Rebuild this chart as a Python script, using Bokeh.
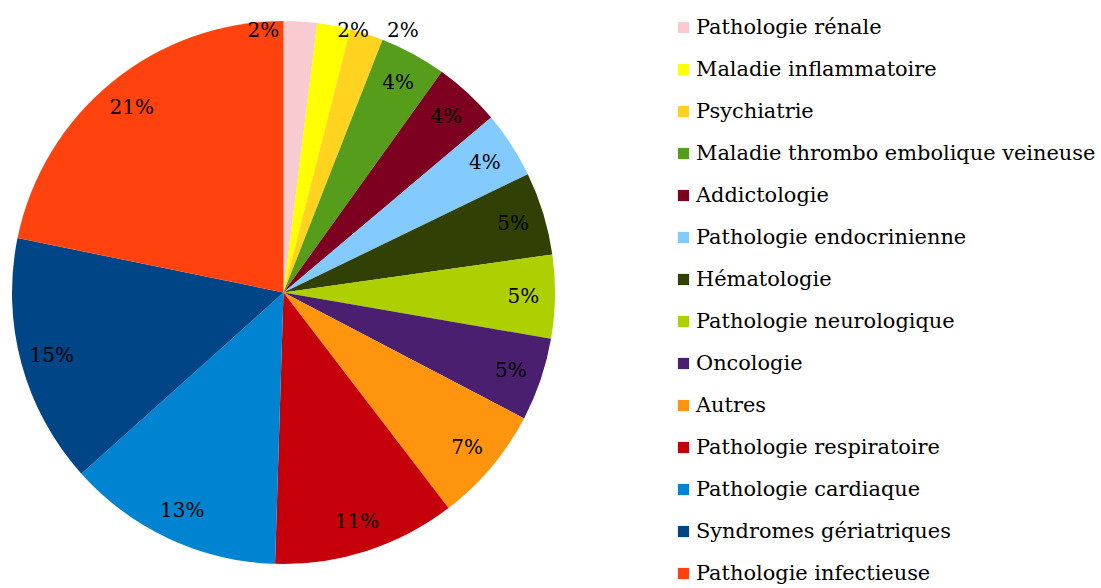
import numpy as np
from bokeh.plotting import figure
from bokeh.models import ColumnDataSource, Range1d, Legend, LegendItem
from bokeh.embed import file_html
from bokeh.resources import INLINE
from bokeh.core.properties import value

categories = [
    "Pathologie rénale",
    "Maladie inflammatoire",
    "Psychiatrie",
    "Maladie thrombo embolique veineuse",
    "Addictologie",
    "Pathologie endocrinienne",
    "Hématologie",
    "Pathologie neurologique",
    "Oncologie",
    "Autres",
    "Pathologie respiratoire",
    "Pathologie cardiaque",
    "Syndromes gériatriques",
    "Pathologie infectieuse",
]
counts = [2, 2, 2, 4, 4, 4, 5, 5, 5, 7, 11, 13, 15, 22]
pct_labels = ["2%", "2%", "2%", "4%", "4%", "4%", "5%", "5%", "5%", "7%",
              "11%", "13%", "15%", "21%"]
colors = ["#f9cbd1", "#ffff00", "#ffd320", "#579d1c", "#7e0021", "#83caff",
          "#314004", "#aecf00", "#4b1f6f", "#ff950e", "#c5000b", "#0084d1",
          "#004586", "#ff420e"]
# screen-pixel nudges for the crowded small-slice labels
label_dx = [-35, 25, 46, 0, 0, 0, 0, 0, 0, 0, 0, 0, 0, 0]
label_dy = [-23, -27, -34, 0, 0, 0, 0, 0, 0, 0, 0, 0, 0, 0]

FONT = "DejaVu Serif"

W, H = 1101, 588
CX, CY, R = 283, H - 292, 271.5
LABEL_R = 0.884 * R

vals = np.array(counts, dtype=float)
frac = vals / vals.sum()
cum = np.cumsum(frac)
start = np.pi / 2 - 2 * np.pi * (cum - frac)
end = np.pi / 2 - 2 * np.pi * cum
mid = np.pi / 2 - 2 * np.pi * (cum - frac / 2)

src = ColumnDataSource(dict(
    cat=categories, start=start, end=end, color=colors,
))
lab = ColumnDataSource(dict(
    x=CX + LABEL_R * np.cos(mid), y=CY + LABEL_R * np.sin(mid),
    text=pct_labels, xo=label_dx, yo=label_dy,
))

p = figure(width=W, height=H, x_range=Range1d(0, W), y_range=Range1d(0, H),
           output_backend="svg", toolbar_location=None, min_border=0,
           x_axis_type=None, y_axis_type=None)
p.grid.visible = False
p.outline_line_color = None
p.background_fill_color = "white"

r = p.wedge(x=CX, y=CY, radius=R, start_angle="start", end_angle="end",
            direction="clock", fill_color="color", line_color=None, source=src)

p.text(x="x", y="y", text="text", x_offset="xo", y_offset="yo", source=lab,
       text_align="center", text_baseline="middle",
       text_font=value(FONT), text_font_size="20px",
       text_color="black")

items = [LegendItem(label=c, renderers=[r], index=i) for i, c in enumerate(categories)]
legend = Legend(items=items, location=(676, 0), orientation="vertical",
                glyph_width=14, glyph_height=14, label_height=31, spacing=11,
                padding=0, margin=0, label_standoff=6,
                border_line_color=None, background_fill_alpha=0,
                label_text_font=FONT, label_text_font_size="20.9px",
                label_text_color="black")
p.add_layout(legend)

open("out.html", "w").write(file_html(p, INLINE))
